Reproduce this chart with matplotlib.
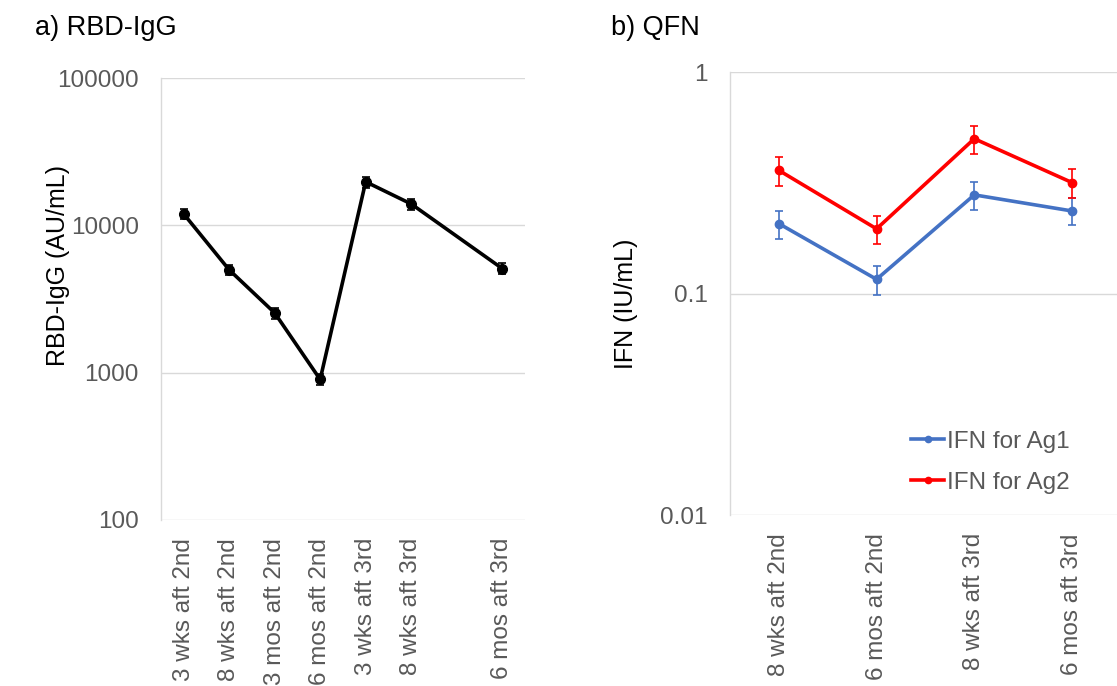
import matplotlib

matplotlib.use("Agg")

import matplotlib.pyplot as plt
from matplotlib.lines import Line2D
from matplotlib.ticker import FixedLocator, NullLocator

plt.rcParams["font.family"] = ["Liberation Sans", "DejaVu Sans"]

# RBD-IgG панель
igg_labels = ["3 wks aft 2nd", "8 wks aft 2nd", "3 mos aft 2nd", "6 mos aft 2nd",
              "3 wks aft 3rd", "8 wks aft 3rd", "", "6 mos aft 3rd"]
igg_pos = [0, 1, 2, 3, 4, 5, 7]
igg_values = [12000, 5000, 2550, 900, 19800, 14000, 5100]
igg_err = [1000, 420, 220, 80, 1700, 1200, 450]

# QFN панель
qfn_labels = ["8 wks aft 2nd", "6 mos aft 2nd", "8 wks aft 3rd", "6 mos aft 3rd"]
ag1_values = [0.207, 0.116, 0.279, 0.236]
ag1_err = [0.03, 0.017, 0.04, 0.033]
ag2_values = [0.36, 0.196, 0.50, 0.317]
ag2_err = [0.055, 0.029, 0.072, 0.047]

GRID = "#d9d9d9"
TICK = "#595959"
BLUE = "#4472c4"
RED = "#ff0000"


def style_axis(ax):
    for side in ["top", "right", "bottom"]:
        ax.spines[side].set_visible(False)
    ax.spines["left"].set_color(GRID)
    ax.spines["left"].set_linewidth(1.0)
    ax.yaxis.grid(True, color=GRID, linewidth=1.0)
    ax.set_axisbelow(True)
    ax.tick_params(length=0, labelsize=17.5, colors=TICK)
    ax.tick_params(axis="y", pad=16)
    ax.tick_params(axis="x", pad=13)
    ax.yaxis.set_minor_locator(NullLocator())


fig = plt.figure(figsize=(11.17, 6.86), dpi=100)

ax1 = fig.add_axes([0.144, 0.242, 0.326, 0.644])
ax1.set_yscale("log")
ax1.errorbar(igg_pos, igg_values, yerr=igg_err, color="black", linewidth=2.6,
             marker="o", markersize=7, capsize=3, elinewidth=1.2, capthick=1.2)
ax1.set_ylim(100, 100000)
ax1.yaxis.set_major_locator(FixedLocator([100, 1000, 10000, 100000]))
ax1.set_yticklabels(["100", "1000", "10000", "100000"])
ax1.set_xlim(-0.5, len(igg_labels) - 0.5)
ax1.set_xticks(range(len(igg_labels)))
ax1.set_xticklabels(igg_labels, rotation=90)
style_axis(ax1)
ax1.set_ylabel("RBD-IgG (AU/mL)", fontsize=18)
ax1.yaxis.set_label_coords(-0.25, 0.577)
fig.text(0.031, 0.959, "a) RBD-IgG", fontsize=19.5, va="center")

ax2 = fig.add_axes([0.6535, 0.249, 0.35, 0.646])
ax2.set_yscale("log")
x2 = list(range(len(qfn_labels)))
ax2.errorbar(x2, ag1_values, yerr=ag1_err, color=BLUE, linewidth=2.6,
             marker="o", markersize=6, capsize=3, elinewidth=1.2, capthick=1.2)
ax2.errorbar(x2, ag2_values, yerr=ag2_err, color=RED, linewidth=2.6,
             marker="o", markersize=6, capsize=3, elinewidth=1.2, capthick=1.2)
ax2.set_ylim(0.01, 1)
ax2.yaxis.set_major_locator(FixedLocator([0.01, 0.1, 1]))
ax2.set_yticklabels(["0.01", "0.1", "1"])
ax2.set_xlim(-0.5, len(qfn_labels) - 0.5)
ax2.set_xticks(x2)
ax2.set_xticklabels(qfn_labels, rotation=90)
style_axis(ax2)
ax2.set_ylabel("IFN (IU/mL)", fontsize=18)
ax2.yaxis.set_label_coords(-0.235, 0.478)

# легенда без усов погрешностей
handles = [Line2D([], [], color=BLUE, linewidth=2.6, marker="o", markersize=4.5),
           Line2D([], [], color=RED, linewidth=2.6, marker="o", markersize=4.5)]
ax2.legend(handles, ["IFN for Ag1", "IFN for Ag2"], loc="center left",
           bbox_to_anchor=(0.464, 0.12), frameon=False, fontsize=17.5,
           labelcolor=TICK, handlelength=1.35, handletextpad=0.1,
           labelspacing=0.78, borderpad=0, borderaxespad=0)
fig.text(0.547, 0.959, "b) QFN", fontsize=19.5, va="center")

plt.savefig("out.png", dpi=100)
plt.close(fig)
